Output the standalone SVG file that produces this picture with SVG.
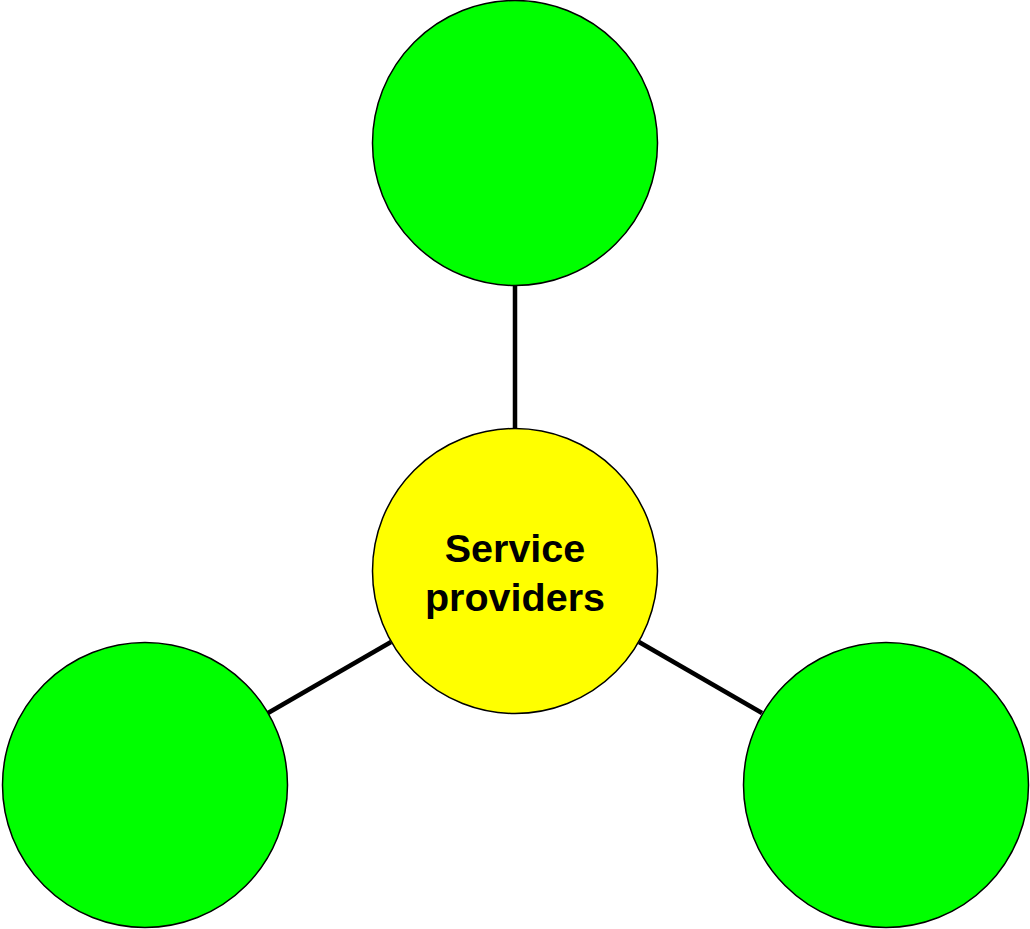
<svg xmlns="http://www.w3.org/2000/svg" width="1030" height="929" viewBox="0 0 1030 929">
  <style>
    .link { stroke: #000; stroke-width: 4.5; fill: none; }
    .node { stroke: #000; stroke-width: 1.5; }
    .outer { fill: #00ff00; }
    .hub { fill: #ffff00; }
    .label { font-family: "Liberation Sans", Arial, sans-serif; font-weight: bold; font-size: 39.5px; fill: #000; text-anchor: middle; }
  </style>
  <rect width="1030" height="929" fill="#ffffff"/>
  <g id="connectors">
    <line class="link" x1="515" y1="286" x2="515" y2="428"/>
    <line class="link" x1="268" y1="713" x2="391" y2="642"/>
    <line class="link" x1="639" y1="642" x2="762" y2="713"/>
  </g>
  <g id="node-top">
    <circle class="node outer" cx="515" cy="143" r="142.5"/>
  </g>
  <g id="node-left">
    <circle class="node outer" cx="145" cy="785" r="142.5"/>
  </g>
  <g id="node-right">
    <circle class="node outer" cx="886" cy="785" r="142.5"/>
  </g>
  <g id="node-hub">
    <circle class="node hub" cx="515" cy="571" r="142.5"/>
    <text class="label" x="515" y="562">Service</text>
    <text class="label" x="515" y="611">providers</text>
  </g>
</svg>
